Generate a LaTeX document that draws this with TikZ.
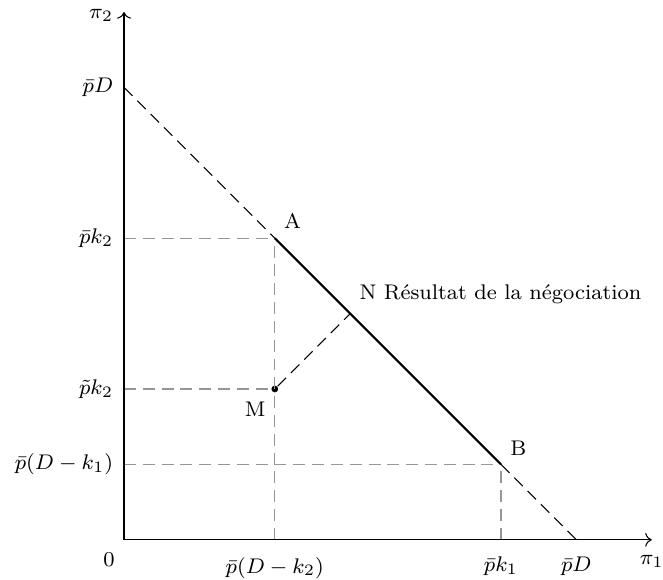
\documentclass[tikz,border=0pt]{standalone}
\usepackage{amsmath,amssymb}
\usepackage{xcolor,tikz,fontspec}
\usetikzlibrary{arrows.meta,positioning,calc}
\definecolor{guidegray}{RGB}{150,150,150}
\tikzset{
  axe/.style={->,thin,draw=black},
  guide/.style={draw=guidegray,dash pattern=on 4.5pt off 2.6pt},
  diag/.style={draw=black,dash pattern=on 4.5pt off 2.6pt},
  segm/.style={draw=black,thick},
  lab/.style={font=\footnotesize},
  dot/.style={circle,fill=black,inner sep=0.9pt}
}
\begin{document}
\begin{tikzpicture}[x=1cm,y=1cm]
  \useasboundingbox (-1.645,-0.53) rectangle (7.149,7.16);
  % points
  \coordinate (O) at (0,0);
  \coordinate (X) at (7,0);
  \coordinate (Y) at (0,7);
  \coordinate (Dy) at (0,6);
  \coordinate (Dx) at (6,0);
  \coordinate (A) at (2,4);
  \coordinate (B) at (5,1);
  \coordinate (N) at (3,3);
  \coordinate (Ay) at (0,4);
  \coordinate (My) at (0,2);
  \coordinate (By) at (0,1);
  \coordinate (Ax) at (2,0);
  \coordinate (Bx) at (5,0);
  \node[dot] (M) at (2,2) {};
  % guides
  \draw[guide] (Ay) -- (A);
  \draw[guide] (My) -- (M);
  \draw[guide] (By) -- (B);
  \draw[guide] (Ax) -- (A);
  \draw[guide] (Bx) -- (B);
  \draw[diag] (Dy) -- (A);
  \draw[diag] (B) -- (Dx);
  \draw[diag] (M) -- (N);
  \draw[segm] (A) -- (B);
  % axes
  \draw[axe] (O) -- (X);
  \draw[axe] (O) -- (Y);
  % axis labels
  \node[lab,anchor=east] (pi2) at (-0.02,6.96) {$\pi_2$};
  \node[lab,anchor=north,yshift=-1.5pt] (pi1) at (7.0,-0.03) {$\pi_1$};
  \node[lab,anchor=north east,yshift=-1.5pt] (zero) at (O) {$0$};
  \node[lab,anchor=east] (lDy) at (-0.02,6) {$\bar{p}D$};
  \node[lab,anchor=east] (lAy) at (-0.02,4) {$\bar{p}k_2$};
  \node[lab,anchor=east] (lMy) at (-0.02,2) {$\tilde{p}k_2$};
  \node[lab,anchor=east] (lBy) at (-0.02,1) {$\bar{p}(D-k_1)$};
  \node[lab,below,yshift=-3pt] (lAx) at (Ax) {$\bar{p}(D-k_2)$};
  \node[lab,below,yshift=-3pt] (lBx) at (Bx) {$\bar{p}k_1$};
  \node[lab,below,yshift=-3pt] (lDx) at (Dx) {$\bar{p}D$};
  % point labels
  \node[lab,above right] (lA) at (A) {A};
  \node[lab,above right] (lB) at (B) {B};
  \node[lab,below left,yshift=-1.5pt] (lM) at (M) {M};
  \node[lab,above right] (lN) at (N) {N Résultat de la négociation};
\end{tikzpicture}
\end{document}
